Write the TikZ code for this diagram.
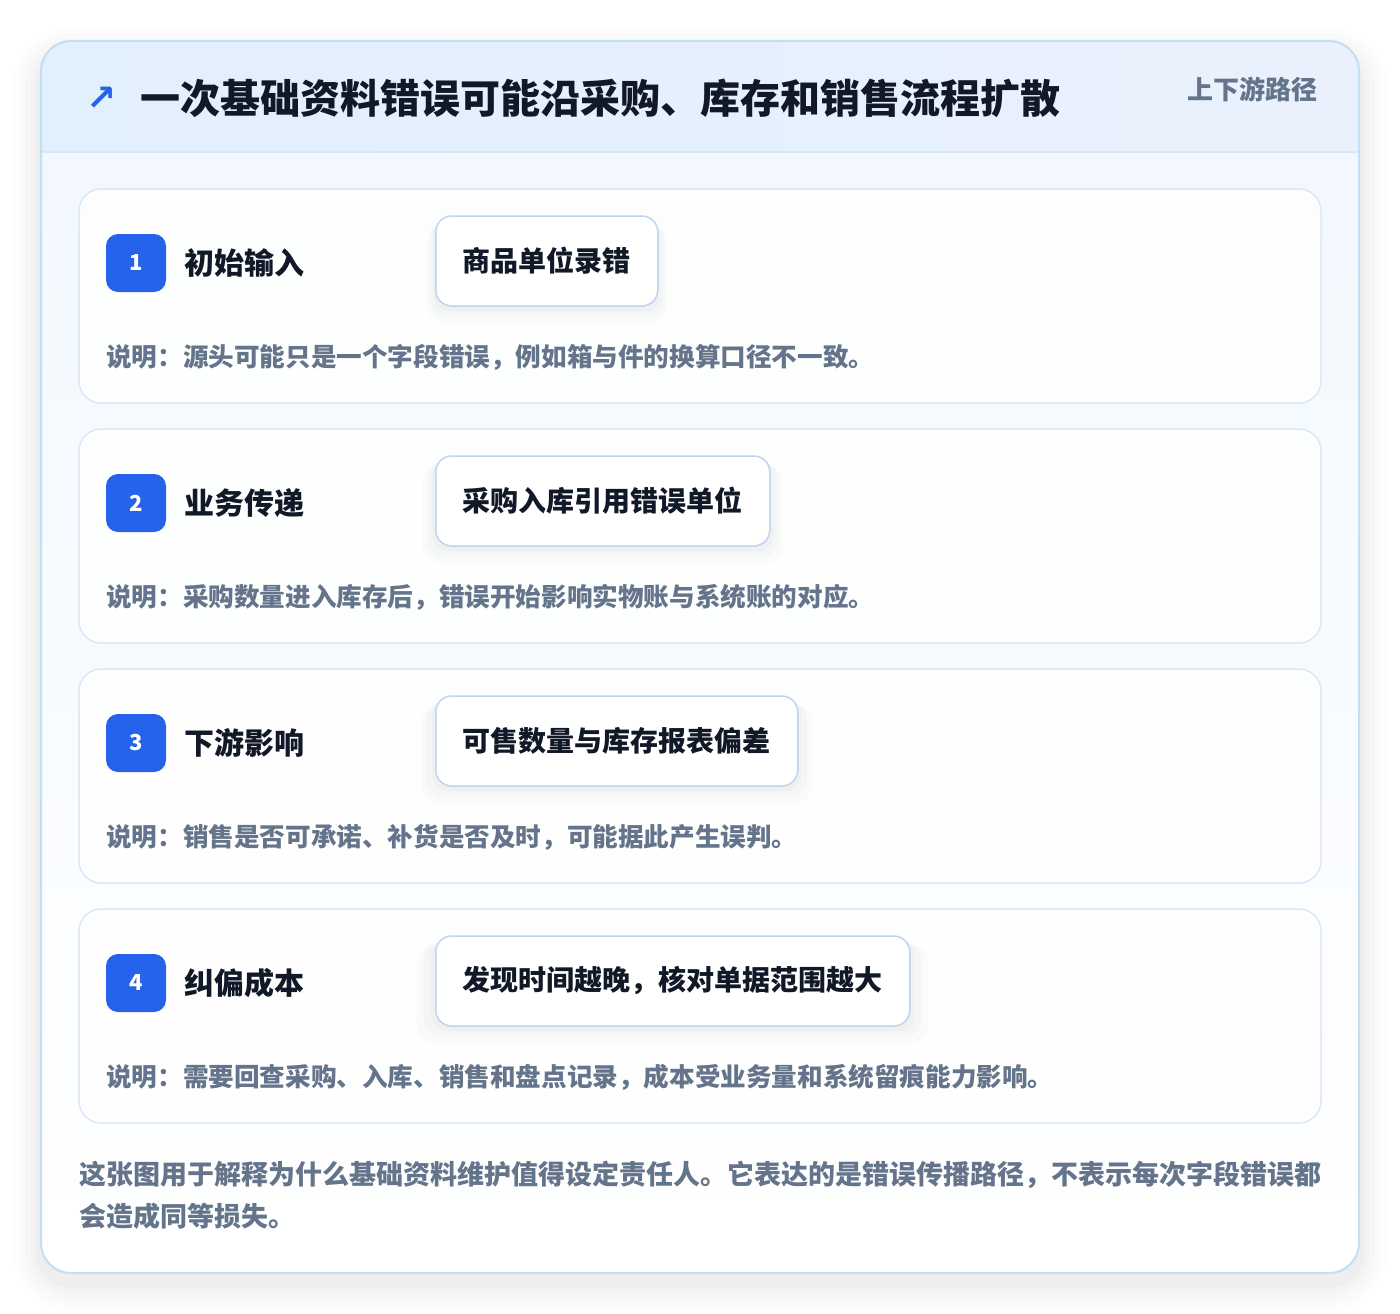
\documentclass[tikz,border=0pt]{standalone}
\usepackage{fontspec}
\setmainfont{Noto Sans CJK SC}
\newfontfamily\symfont{DejaVu Sans}
\usepackage{tikz}
\usetikzlibrary{positioning, calc, shadows}
\definecolor{cardborder}{RGB}{191, 224, 245}
\definecolor{headleft}{RGB}{226, 239, 253}
\definecolor{headright}{RGB}{234, 241, 253}
\definecolor{headline}{RGB}{214, 232, 250}
\definecolor{bodytop}{RGB}{242, 248, 254}
\definecolor{stepborder}{RGB}{219, 232, 247}
\definecolor{badgeblue}{RGB}{37, 99, 235}
\definecolor{boxborder}{RGB}{188, 213, 240}
\definecolor{darktext}{RGB}{17, 24, 39}
\definecolor{slate}{RGB}{100, 116, 139}
\newcommand{\fs}[1]{\fontsize{#1}{#1}\selectfont\bfseries}

\begin{document}
\begin{tikzpicture}[x=1pt, y=-1pt,
  stepcard/.style={draw=stepborder, line width=1.5pt, fill=white, fill opacity=0.85, rounded corners=22pt, minimum width=1242pt, minimum height=214pt},
  badge/.style={fill=badgeblue, rounded corners=12pt, minimum width=60pt, minimum height=58pt, inner sep=0pt, text=white, font=\fs{22}},
  steplabel/.style={anchor=west, inner sep=0pt, text=darktext, font=\fs{30}},
  effectbox/.style={draw=boxborder, line width=1.5pt, fill=white, rounded corners=16pt, minimum height=90pt, inner xsep=27pt, anchor=west, text=darktext, font=\fs{28},
    drop shadow={shadow xshift=0pt, shadow yshift=-4pt, shadow scale=1.02, opacity=0.02, fill=black},
    drop shadow={shadow xshift=0pt, shadow yshift=-8pt, shadow scale=1.05, opacity=0.02, fill=black},
    drop shadow={shadow xshift=0pt, shadow yshift=-12pt, shadow scale=1.08, opacity=0.015, fill=black}},
  note/.style={anchor=west, inner sep=0pt, text=slate, font=\fs{25.6}}]
  \useasboundingbox (0,0) rectangle (1400,1314);
  \fill[white] (0,0) rectangle (1400,1314);

  % Soft shadow of the outer card
  \foreach \s/\o in {28/0.008, 22/0.01, 16/0.012, 10/0.015, 5/0.018}
    \fill[black, opacity=\o, rounded corners=30pt+\s pt] (41-\s,41-\s+14) rectangle (1359+\s,1273+\s+10);

  % Outer card
  \begin{scope}
    \clip[rounded corners=30pt] (41,41) rectangle (1359,1273);
    \shade[top color=bodytop, bottom color=white] (41,152) rectangle (1359,1273);
    \shade[left color=headleft, right color=headright] (41,41) rectangle (1359,152);
    \draw[headline, line width=1.5pt] (41,152) -- (1359,152);
  \end{scope}
  \draw[cardborder, line width=2pt, rounded corners=30pt] (41,41) rectangle (1359,1273);

  % Header
  \node[text=badgeblue, font=\symfont\bfseries\fontsize{36}{36}\selectfont, inner sep=0pt] (arrow) at (102,99) {↗};
  \node[anchor=west, inner sep=0pt, text=darktext, font=\fs{40}] (title) at (140,98) {一次基础资料错误可能沿采购、库存和销售流程扩散};
  \node[anchor=east, inner sep=0pt, text=slate, font=\fs{26}] (tag) at (1318,89) {上下游路径};

  % Steps
  \foreach \n/\lab/\eff/\desc in {
    1/初始输入/商品单位录错/说明：源头可能只是一个字段错误，例如箱与件的换算口径不一致。,
    2/业务传递/采购入库引用错误单位/说明：采购数量进入库存后，错误开始影响实物账与系统账的对应。,
    3/下游影响/可售数量与库存报表偏差/说明：销售是否可承诺、补货是否及时，可能据此产生误判。,
    4/纠偏成本/发现时间越晚，核对单据范围越大/说明：需要回查采购、入库、销售和盘点记录，成本受业务量和系统留痕能力影响。} {
    \pgfmathsetmacro{\top}{189+(\n-1)*240}
    \node[stepcard] (card\n) at (700,\top+107) {};
    \node[badge] (badge\n) at (136,\top+74) {\n};
    \node[steplabel] (lab\n) at (184,\top+74) {\lab};
    \node[effectbox] (box\n) at (435,\top+72) {\eff};
    \node[note] (desc\n) at (106,\top+168) {\desc};
  }

  % Footer
  \node[anchor=north west, inner sep=0pt, align=left, text=slate, font=\fontsize{27}{42}\selectfont\bfseries] (foot) at (79,1161)
    {这张图用于解释为什么基础资料维护值得设定责任人。它表达的是错误传播路径，不表示每次字段错误都\\会造成同等损失。};
\end{tikzpicture}
\end{document}
